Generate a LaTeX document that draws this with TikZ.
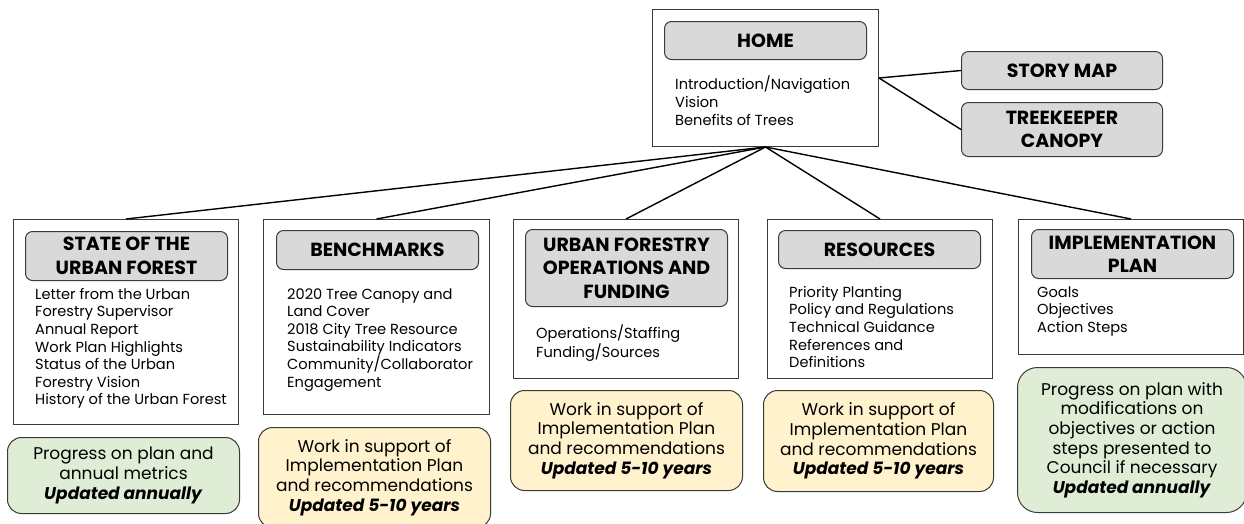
\documentclass[tikz,border=0pt]{standalone}
\usepackage{fontspec}
\setmainfont{Poppins}
\definecolor{hdrfill}{HTML}{D9D9D9}
\definecolor{edgecol}{HTML}{3A3A3A}
\definecolor{ylw}{HTML}{FFF2CC}
\definecolor{grn}{HTML}{DFEDD6}
\tikzset{
  outerbox/.style={draw=edgecol, line width=1pt, anchor=north west, inner sep=0pt},
  hdrbox/.style={draw=edgecol, fill=hdrfill, rounded corners=7pt, line width=1pt, align=center,
    font=\bfseries\fontsize{19}{23.5}\selectfont, anchor=north west, inner sep=0pt, minimum width=202pt},
  bodytext/.style={align=left, anchor=north west, inner sep=0pt, font=\fontsize{14.6}{17.6}\selectfont},
  notebox/.style={draw=edgecol, rounded corners=14pt, line width=1pt, align=center,
    font=\fontsize{17}{19.6}\selectfont, anchor=north west, inner sep=0pt},
  wire/.style={line width=1.4pt, black}
}
\begin{document}
\begin{tikzpicture}[x=1pt,y=-1pt]
\useasboundingbox (0,0) rectangle (1244,523);
% HOME
\node[outerbox, minimum width=226pt, minimum height=137pt] (home) at (652,9) {};
\node[hdrbox, minimum height=38pt] (homeh) at (664,21) {HOME};
\node[bodytext] (homet) at (675,76) {Introduction/Navigation\\Vision\\Benefits of Trees};
% side boxes
\node[hdrbox, minimum width=201pt, minimum height=38pt] (story) at (961,51) {STORY MAP};
\node[hdrbox, minimum width=201pt, minimum height=54pt] (tree) at (961,102) {TREEKEEPER\\CANOPY};
% level 2 boxes
\node[outerbox, minimum width=225pt, minimum height=205pt] (sbox) at (13,219) {};
\node[hdrbox, minimum height=49pt] (sh) at (25,231) {STATE OF THE\\URBAN FOREST};
\node[bodytext] (st) at (35,288) {Letter from the Urban\\Forestry Supervisor\\Annual Report\\Work Plan Highlights\\Status of the Urban\\Forestry Vision\\History of the Urban Forest};

\node[outerbox, minimum width=226pt, minimum height=195pt] (bbox) at (263,219) {};
\node[hdrbox, minimum height=39pt] (bh) at (276,230) {BENCHMARKS};
\node[bodytext] (bt) at (287,288) {2020 Tree Canopy and\\Land Cover\\2018 City Tree Resource\\Sustainability Indicators\\Community/Collaborator\\Engagement};

\node[outerbox, minimum width=225pt, minimum height=159pt] (ubox) at (513,219) {};
\node[hdrbox, minimum height=77pt] (uh) at (525,229) {URBAN FORESTRY\\OPERATIONS AND\\FUNDING};
\node[bodytext] (ut) at (536,325) {Operations/Staffing\\Funding/Sources};

\node[outerbox, minimum width=225pt, minimum height=159pt] (rbox) at (767,219) {};
\node[hdrbox, minimum height=38pt] (rh) at (778,230) {RESOURCES};
\node[bodytext] (rt) at (789,286) {Priority Planting\\Policy and Regulations\\Technical Guidance\\References and\\Definitions};

\node[outerbox, minimum width=225pt, minimum height=135pt] (ibox) at (1018,219) {};
\node[hdrbox, minimum height=49pt] (ih) at (1031,229) {IMPLEMENTATION\\PLAN};
\node[bodytext] (it) at (1037,286) {Goals\\Objectives\\Action Steps};
% notes
\node[notebox, fill=grn, minimum width=232pt, minimum height=76pt] (sn) at (7,437)
  {Progress on plan and\\annual metrics\\\textbf{\itshape Updated annually}};
\node[notebox, fill=ylw, minimum width=232pt, minimum height=100pt] (bn) at (258,427)
  {Work in support of\\Implementation Plan\\and recommendations\\\textbf{\itshape Updated 5-10 years}};
\node[notebox, fill=ylw, minimum width=232pt, minimum height=100pt] (un) at (510,390)
  {Work in support of\\Implementation Plan\\and recommendations\\\textbf{\itshape Updated 5-10 years}};
\node[notebox, fill=ylw, minimum width=230pt, minimum height=101pt] (rn) at (763,390)
  {Work in support of\\Implementation Plan\\and recommendations\\\textbf{\itshape Updated 5-10 years}};
\node[notebox, fill=grn, rounded corners=20pt, minimum width=229pt, minimum height=145pt] (imn) at (1017,367)
  {Progress on plan with\\modifications on\\objectives or action\\steps presented to\\Council if necessary\\\textbf{\itshape Updated annually}};
% connectors
\draw[wire] (home.east) -- (story.west);
\draw[wire] (home.east) -- (tree.west);
\foreach \t in {sbox,bbox,ubox,rbox,ibox}{
  \draw[wire] (home.south) -- (\t.north);
}
\end{tikzpicture}
\end{document}
